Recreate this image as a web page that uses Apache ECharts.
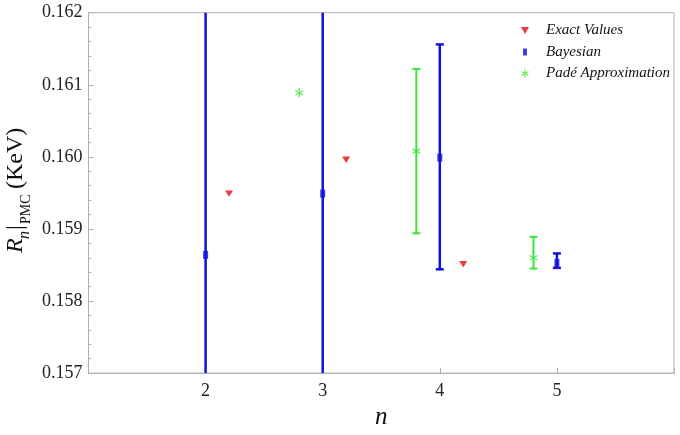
<!DOCTYPE html>
<html>
<head>
<meta charset="utf-8">
<script src="https://cdn.jsdelivr.net/npm/echarts@6/dist/echarts.min.js"></script>
<style>html,body{margin:0;padding:0;background:#fff;}#c{width:680px;height:435px;}</style>
</head>
<body>
<div id="c"></div>
<script>
// ---- data ----
const seriesNames = ['Exact Values', 'Bayesian', 'Padé Approximation'];
const xTicks = [2, 3, 4, 5];
// Exact values: [n offset position, value]
const exactX = [2.2, 3.2, 4.2];
const exactY = [0.15949, 0.15996, 0.15851];
// Bayesian: centre, lower, upper
const bayesX = [2, 3, 4, 5];
const bayesY = [0.15864, 0.15949, 0.15999, 0.15853];
const bayesLo = [0.1536, 0.1545, 0.15844, 0.15846];
const bayesHi = [0.1637, 0.1645, 0.16156, 0.15866];
// Padé approximation: centre, lower, upper (null = no error bar)
const padeX = [2.8, 3.8, 4.8];
const padeY = [0.16089, 0.16008, 0.15860];
const padeLo = [null, 0.15894, 0.15845];
const padeHi = [null, 0.16122, 0.15889];

const RED = '#e60a0a', BLUE = '#1212d8', GREEN = '#3be33b';
const SERIF = '"Liberation Serif","DejaVu Serif",serif';

const triDown = 'path://M0,0 L10,0 L5,9 Z';
const rectIcon = 'path://M0,0 L0.01,0 L0,0.01 Z M8,8 L7.99,8 L8,7.99 Z M2,0.5 L6,0.5 L6,7.5 L2,7.5 Z';
const asterisk = 'path://M4.3,0 L5.7,0 L5.7,10 L4.3,10 Z M1.02,1.894 L9.68,6.894 L8.98,8.106 L0.32,3.106 Z M0.32,6.894 L8.98,1.894 L9.68,3.106 L1.02,8.106 Z';

function zip(xs, ys) { return xs.map((x, i) => [x, ys[i]]); }
function errData(xs, lo, hi) {
  const out = [];
  xs.forEach((x, i) => { if (lo[i] != null && hi[i] != null) out.push([x, lo[i], hi[i]]); });
  return out;
}
function errSeries(data, color, width, cap) {
  return {
    type: 'custom',
    silent: true,
    z: 2,
    encode: { x: 0, y: [1, 2] },
    data: data,
    renderItem: function (params, api) {
      const x = api.value(0), lo = api.value(1), hi = api.value(2);
      const pt = api.coord([x, hi]), pb = api.coord([x, lo]);
      const cs = params.coordSys;
      const y1 = Math.max(pt[1], cs.y), y2 = Math.min(pb[1], cs.y + cs.height);
      const st = { stroke: color, lineWidth: width };
      const ch = [{ type: 'line', shape: { x1: pt[0], y1: y1, x2: pt[0], y2: y2 }, style: st }];
      if (pt[1] >= cs.y) ch.push({ type: 'line', shape: { x1: pt[0] - cap, y1: pt[1], x2: pt[0] + cap, y2: pt[1] }, style: st });
      if (pb[1] <= cs.y + cs.height) ch.push({ type: 'line', shape: { x1: pb[0] - cap, y1: pb[1], x2: pb[0] + cap, y2: pb[1] }, style: st });
      return { type: 'group', children: ch };
    }
  };
}

const chart = echarts.init(document.getElementById('c'), null, { renderer: 'canvas' });
chart.setOption({
  animation: false,
  backgroundColor: '#fff',
  grid: { left: 88.5, right: 6, top: 12.7, bottom: 60, show: true, borderColor: '#b0b0b0', borderWidth: 1 },
  xAxis: {
    type: 'value', min: 1, max: 6, interval: 1,
    name: 'n', nameLocation: 'middle', nameGap: 22,
    nameTextStyle: { fontFamily: SERIF, fontStyle: 'italic', fontSize: 25, color: '#111' },
    axisLine: { lineStyle: { color: '#b0b0b0' } },
    axisTick: { inside: true, length: 5, lineStyle: { color: '#b0b0b0' } },
    splitLine: { show: false },
    axisLabel: {
      margin: 9, fontFamily: SERIF, fontSize: 18, color: '#222',
      formatter: v => xTicks.indexOf(v) >= 0 ? String(v) : ''
    }
  },
  yAxis: {
    type: 'value', min: 0.157, max: 0.162, interval: 0.001,
    axisLine: { show: true, lineStyle: { color: '#b0b0b0' } },
    axisTick: { show: true, inside: true, length: 5, lineStyle: { color: '#b0b0b0' } },
    minorTick: { show: true, splitNumber: 5, length: 3, lineStyle: { color: '#b8b8b8' } },
    splitLine: { show: false },
    axisLabel: {
      margin: 6, fontFamily: SERIF, fontSize: 18, color: '#222',
      formatter: v => v.toFixed(3)
    }
  },
  legend: {
    orient: 'vertical', left: 516, top: 18, itemGap: 6.5,
    itemWidth: 8, itemHeight: 8,
    data: [
      { name: seriesNames[0] },
      { name: seriesNames[1], icon: rectIcon },
      { name: seriesNames[2] }
    ],
    textStyle: { fontFamily: SERIF, fontStyle: 'italic', fontSize: 15, color: '#111', padding: [0, 0, 0, 12] }
  },
  graphic: [{
    type: 'group', x: 28, y: 253, rotation: Math.PI / 2,
    children: [
      { type: 'text', x: 0, y: 0, style: { text: 'R', font: 'italic 24px ' + SERIF, fill: '#111', verticalAlign: 'bottom' } },
      { type: 'text', x: 14, y: 5, style: { text: 'n', font: 'italic 16px ' + SERIF, fill: '#111', verticalAlign: 'bottom' } },
      { type: 'text', x: 23, y: 0, style: { text: '|', font: '24px ' + SERIF, fill: '#111', verticalAlign: 'bottom' } },
      { type: 'text', x: 29, y: 5, style: { text: 'PMC', font: '14px ' + SERIF, fill: '#111', verticalAlign: 'bottom' } },
      { type: 'text', x: 64, y: 0, style: { text: '(KeV)', font: '24px ' + SERIF, fill: '#111', verticalAlign: 'bottom' } }
    ]
  }],
  series: [
    errSeries(errData(bayesX, bayesLo, bayesHi), BLUE, 2.5, 4),
    errSeries(errData(padeX, padeLo, padeHi), GREEN, 2, 4),
    { name: seriesNames[0], type: 'scatter', symbol: triDown, symbolSize: [8, 7], symbolKeepAspect: true, itemStyle: { color: RED }, data: zip(exactX, exactY), z: 3 },
    { name: seriesNames[1], type: 'scatter', symbol: 'rect', symbolSize: [5, 8], itemStyle: { color: BLUE }, data: zip(bayesX, bayesY), z: 3 },
    { name: seriesNames[2], type: 'scatter', symbol: asterisk, symbolSize: [9, 9], symbolKeepAspect: true, itemStyle: { color: GREEN }, data: zip(padeX, padeY), z: 3 }
  ]
});
</script>
</body>
</html>
